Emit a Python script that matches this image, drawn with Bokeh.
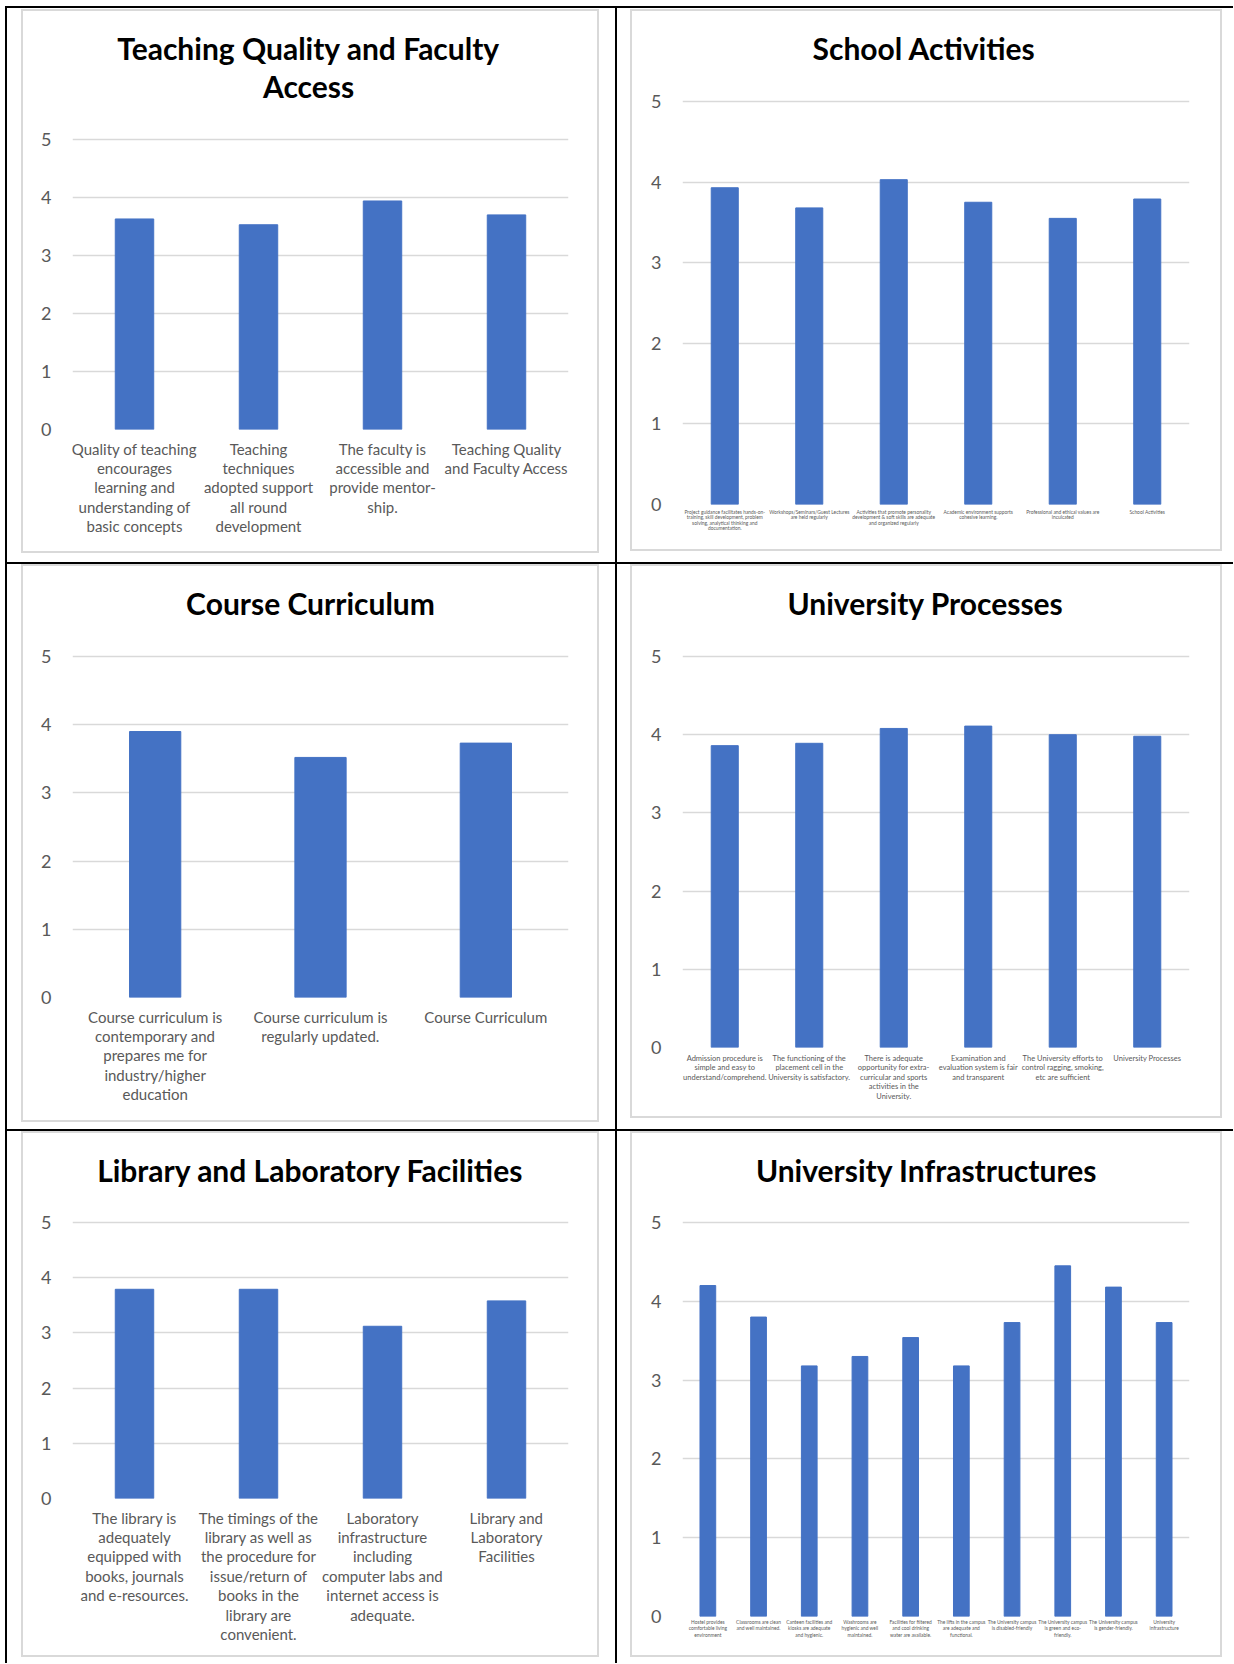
from bokeh.plotting import figure
from bokeh.layouts import row, column
from bokeh.models import Range1d, FixedTicker, Label, Spacer
from bokeh.embed import file_html
from bokeh.resources import INLINE

# ---------------- data ----------------
tq_title = "Teaching Quality and Faculty\nAccess"
tq_cats = ["Quality of teaching\nencourages\nlearning and\nunderstanding of\nbasic concepts",
           "Teaching\ntechniques\nadopted support\nall round\ndevelopment",
           "The faculty is\naccessible and\nprovide mentor-\nship.",
           "Teaching Quality\nand Faculty Access"]
tq_vals = [3.63, 3.53, 3.94, 3.70]

sa_title = "School Activities"
sa_cats = ["Project guidance facilitates hands-on-\ntraining, skill development, problem\nsolving, analytical thinking and\ndocumentation.",
           "Workshops/Seminars/Guest Lectures\nare held regularly",
           "Activities that promote personality\ndevelopment & soft skills are adequate\nand organized regularly",
           "Academic environment supports\ncohesive learning.",
           "Professional and ethical values are\ninculcated",
           "School Activities"]
sa_vals = [3.93, 3.68, 4.03, 3.75, 3.55, 3.79]

cc_title = "Course Curriculum"
cc_cats = ["Course curriculum is\ncontemporary and\nprepares me for\nindustry/higher\neducation",
           "Course curriculum is\nregularly updated.",
           "Course Curriculum"]
cc_vals = [3.90, 3.52, 3.73]

up_title = "University Processes"
up_cats = ["Admission procedure is\nsimple and easy to\nunderstand/comprehend.",
           "The functioning of the\nplacement cell in the\nUniversity is satisfactory.",
           "There is adequate\nopportunity for extra-\ncurricular and sports\nactivities in the\nUniversity.",
           "Examination and\nevaluation system is fair\nand transparent",
           "The University efforts to\ncontrol ragging, smoking,\netc are sufficient",
           "University Processes"]
up_vals = [3.86, 3.89, 4.08, 4.11, 4.00, 3.98]

ll_title = "Library and Laboratory Facilities"
ll_cats = ["The library is\nadequately\nequipped with\nbooks, journals\nand e-resources.",
           "The timings of the\nlibrary as well as\nthe procedure for\nissue/return of\nbooks in the\nlibrary are\nconvenient.",
           "Laboratory\ninfrastructure\nincluding\ncomputer labs and\ninternet access is\nadequate.",
           "Library and\nLaboratory\nFacilities"]
ll_vals = [3.79, 3.79, 3.12, 3.58]

ui_title = "University Infrastructures"
ui_cats = ["Hostel provides\ncomfortable living\nenvironment",
           "Classrooms are clean\nand well maintained.",
           "Canteen facilities and\nkiosks are adequate\nand hygienic.",
           "Washrooms are\nhygienic and well\nmaintained.",
           "Facilities for filtered\nand cool drinking\nwater are available.",
           "The lifts in the campus\nare adequate and\nfunctional.",
           "The University campus\nis disabled-friendly",
           "The University campus\nis green and eco-\nfriendly.",
           "The University campus\nis gender-friendly.",
           "University\ninfrastructure"]
ui_vals = [4.20, 3.80, 3.18, 3.30, 3.54, 3.18, 3.73, 4.45, 4.18, 3.73]

y_ticks = [0, 1, 2, 3, 4, 5]

# ---------------- styling ----------------
BAR = "#4472C4"
GRID = "#d9d9d9"
LAB = "#595959"
FONT = "Lato"
BORDER = 2


def make_chart(title, cats, vals, box_w, box_h, left, right, five_rel, zero_rel,
               title_rel, bar_w, lab_size, lab_lh, lab_standoff, margin):
    # canvas is box_w x box_h, offset by the CSS border inside the box
    ppu = (zero_rel - five_rel) / 5.0
    y_end = (zero_rel - BORDER) / ppu
    p = figure(x_range=cats, y_range=Range1d(0, y_end), width=box_w, height=box_h,
               output_backend="svg", toolbar_location=None,
               min_border_left=left - BORDER, min_border_right=right + BORDER,
               min_border_top=0, min_border_bottom=box_h - zero_rel + BORDER,
               margin=margin,
               styles={"border": f"{BORDER}px solid {GRID}"})
    p.vbar(x=cats, top=vals, width=bar_w, color=BAR)
    p.outline_line_color = None
    p.background_fill_color = "white"
    p.border_fill_color = "white"
    p.xgrid.visible = False
    p.yaxis.ticker = FixedTicker(ticks=y_ticks)
    p.ygrid.ticker = FixedTicker(ticks=y_ticks)
    p.ygrid.grid_line_color = GRID
    p.ygrid.grid_line_width = 1.3
    for ax in (p.xaxis[0], p.yaxis[0]):
        ax.axis_line_color = None
        ax.major_tick_line_color = None
        ax.minor_tick_line_color = None
        ax.major_tick_in = 0
        ax.major_tick_out = 0
        ax.major_label_text_font = FONT
        ax.major_label_text_color = LAB
    p.yaxis.major_label_text_font_size = "18px"
    p.yaxis.major_label_standoff = 21
    p.xaxis.major_label_text_font_size = f"{lab_size}px"
    p.xaxis.major_label_text_line_height = lab_lh
    p.xaxis.major_label_standoff = lab_standoff
    p.xaxis.major_label_orientation = "horizontal"
    frame_w = box_w - left - right
    tx = (box_w / 2.0 - left) / frame_w * len(cats)
    ty = (zero_rel - title_rel) / ppu
    p.add_layout(Label(x=tx, y=ty, text=title, text_align="center",
                       text_baseline="middle", text_font=FONT,
                       text_font_style="bold", text_font_size="30px",
                       text_color="black", text_line_height=1.08))
    return p


# left column charts (box 578 wide)
c1 = make_chart(tq_title, tq_cats, tq_vals, 578, 544, 51, 27, 130, 420, 57.5,
                0.31, 15, 1.08, 10, (1, 16, 9, 14))
c3 = make_chart(cc_title, cc_cats, cc_vals, 578, 558, 51, 31, 92, 433, 38,
                0.31, 15, 1.08, 10, (0, 16, 7, 14))
c5 = make_chart(ll_title, ll_cats, ll_vals, 578, 526, 51, 31, 91, 367, 38,
                0.31, 15, 1.08, 10, (0, 16, 6, 14))
# right column charts (box 592 wide)
c2 = make_chart(sa_title, sa_cats, sa_vals, 592, 542, 52, 28, 92, 495, 38,
                0.32, 4.9, 0.92, 4, (1, 11, 11, 13))
c4 = make_chart(up_title, up_cats, up_vals, 592, 554, 52, 31, 92, 483, 38,
                0.32, 7.5, 1.06, 6, (0, 11, 11, 13))
c6 = make_chart(ui_title, ui_cats, ui_vals, 592, 526, 52, 33, 91, 485, 38,
                0.31, 4.9, 1.1, 2, (0, 11, 6, 13))


def line(w, h, color="black"):
    return Spacer(width=w, height=h, margin=0, sizing_mode="fixed",
                  styles={"background-color": color})


COL_L = 608
COL_R = 616
BODY_H = 554 + 2 + 565 + 2 + 532

left_col = column(children=[c1, line(COL_L, 2), c3, line(COL_L, 2), c5],
                  spacing=0, margin=0)
right_col = column(children=[c2, line(COL_R, 2), c4, line(COL_R, 2), c6],
                   spacing=0, margin=0)
body = row(children=[line(2, BODY_H), left_col, line(2, BODY_H), right_col],
           spacing=0, margin=0)
table = column(children=[line(1, 6, "white"), line(2 + COL_L + 2 + COL_R, 2), body],
               spacing=0, margin=0)
layout = row(children=[line(5, 6 + 2 + BODY_H, "white"), table], spacing=0, margin=0)

open("out.html", "w").write(file_html(layout, INLINE))
